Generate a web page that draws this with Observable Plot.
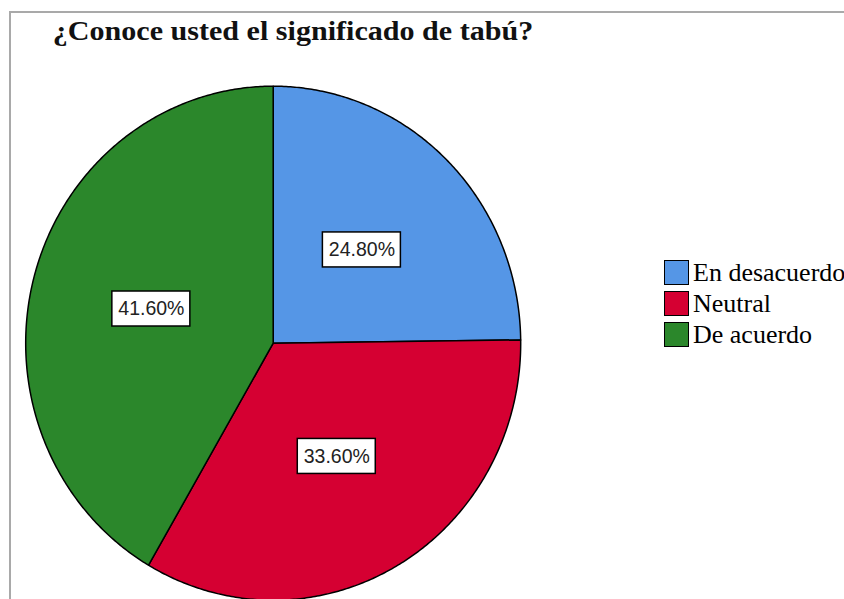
<!DOCTYPE html>
<html><head><meta charset="utf-8">
<script src="https://cdn.jsdelivr.net/npm/d3@7"></script>
<script src="https://cdn.jsdelivr.net/npm/@observablehq/plot@0.6"></script>
<style>
body{margin:0;background:#fff;}
#wrap{position:relative;width:844px;height:599px;overflow:hidden;background:#fff;}
#border{position:absolute;left:9px;top:11px;width:900px;height:700px;border-left:2px solid #a9a9a9;border-top:2px solid #a9a9a9;box-sizing:border-box;}
#title{position:absolute;left:0;top:18px;width:586px;text-align:center;font:bold 26.5px/27px "Liberation Serif","Times New Roman",serif;color:#111;white-space:nowrap;transform:scaleX(1.135);transform-origin:293px 50%;}
#chart{position:absolute;left:0;top:0;}
#chart svg{overflow:hidden;}
#legend{position:absolute;left:664px;top:260px;}
.row{position:relative;height:31px;white-space:nowrap;}
.sw{position:absolute;left:0;top:0;width:25px;height:25px;box-sizing:border-box;border:1.5px solid #000;}
.lt{position:absolute;left:29px;top:0;font:26px/25px "Liberation Serif","Times New Roman",serif;color:#000;}
</style></head><body>
<div id="wrap"><div id="border"></div><div id="title"></div><div id="chart"></div><div id="legend"></div></div>
<script>
const categories = ["En desacuerdo", "Neutral", "De acuerdo"];
const percents = [24.8, 33.6, 41.6];
const colors = ["#5596e6", "#d50032", "#2b872b"];
const labels = ["24.80%", "33.60%", "41.60%"];
const title = "¿Conoce usted el significado de tabú?";

document.getElementById("title").textContent = title;

// slice geometry derived from the data (angles clockwise from 12 o'clock)
const total = d3.sum(percents);
let acc = 0;
const slices = categories.map((c, i) => {
  const a0 = acc / total * 2 * Math.PI;
  acc += percents[i];
  const a1 = acc / total * 2 * Math.PI;
  return {category: c, a0, a1, label: labels[i]};
});
const outline = [];
for (const s of slices) {
  outline.push({category: s.category, x: 0, y: 0});
  const n = Math.max(2, Math.ceil((s.a1 - s.a0) / (Math.PI / 360)));
  for (let k = 0; k <= n; k++) {
    const a = s.a0 + (s.a1 - s.a0) * k / n;
    outline.push({category: s.category, x: Math.sin(a), y: Math.cos(a)});
  }
}
const labelPts = slices.map(s => {
  const m = (s.a0 + s.a1) / 2;
  return {category: s.category, label: s.label, x: 0.51 * Math.sin(m), y: 0.51 * Math.cos(m)};
});

const chart = Plot.plot({
  width: 844,
  height: 599,
  margin: 0,
  x: {domain: [-1, 1], range: [25.2, 520.2], axis: null},
  y: {domain: [-1, 1], range: [599.7, 85.7], axis: null},
  color: {domain: categories, range: colors},
  style: {background: "transparent"},
  marks: [
    Plot.line(outline, {x: "x", y: "y", z: "category", fill: "category", stroke: "#000", strokeWidth: 1.5, curve: "linear-closed", strokeLinejoin: "round"}),
    Plot.rect(labelPts, {x1: "x", x2: "x", y1: "y", y2: "y", insetLeft: -39, insetRight: -39, insetTop: -17.5, insetBottom: -17.5, fill: "#fff", stroke: "#000", strokeWidth: 1.5}),
    Plot.text(labelPts, {x: "x", y: "y", text: "label", fontSize: 19.5, fontFamily: "Liberation Sans, Arial, sans-serif", fill: "#222", textAnchor: "middle", lineAnchor: "middle"})
  ]
});
document.getElementById("chart").appendChild(chart);

const legend = document.getElementById("legend");
categories.forEach((c, i) => {
  const row = document.createElement("div");
  row.className = "row";
  const sw = document.createElement("span");
  sw.className = "sw";
  sw.style.background = colors[i];
  const lt = document.createElement("span");
  lt.className = "lt";
  lt.textContent = c;
  row.appendChild(sw);
  row.appendChild(lt);
  legend.appendChild(row);
});
</script>
</body></html>
